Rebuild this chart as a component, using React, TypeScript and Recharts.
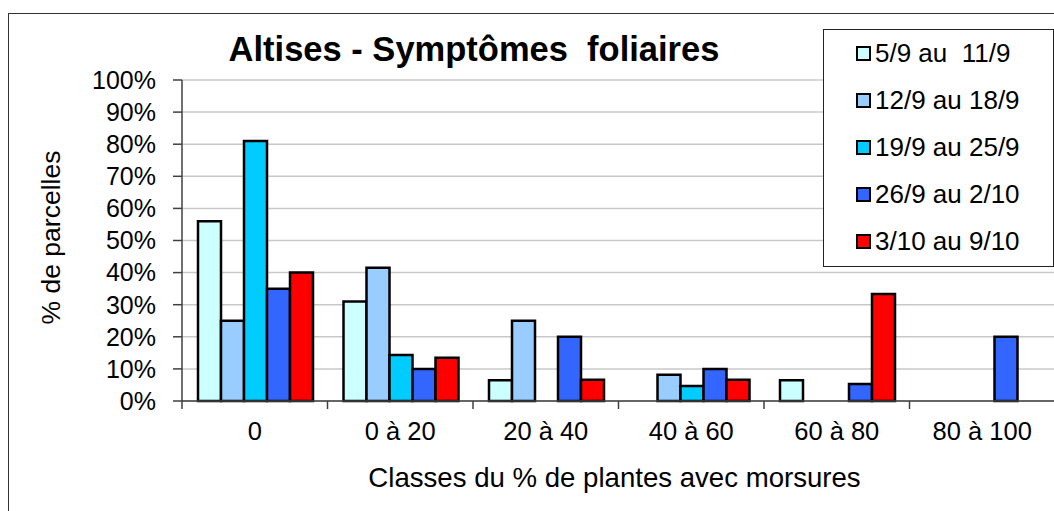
import React from "react";
import { BarChart, Bar, XAxis, YAxis, CartesianGrid, Legend } from "recharts";

// classes d'attaque (axe X)
const classes = ["0", "0 à 20", "20 à 40", "40 à 60", "60 à 80", "80 à 100"];

// périodes d'observation (séries)
const periodes = ["5/9 au  11/9", "12/9 au 18/9", "19/9 au 25/9", "26/9 au 2/10", "3/10 au 9/10"];

// % de parcelles par classe, une liste par période
const sem1 = [56, 31, 6.5, 0, 6.5, 0];
const sem2 = [25, 41.5, 25, 8.2, 0, 0];
const sem3 = [81, 14.3, 0, 4.7, 0, 0];
const sem4 = [35, 10, 20, 10, 5.3, 20];
const sem5 = [40, 13.5, 6.6, 6.6, 33.3, 0];

const couleurs = ["#CCFFFF", "#99CCFF", "#00CCFF", "#3366FF", "#FF0000"];
const yTicks = [0, 10, 20, 30, 40, 50, 60, 70, 80, 90, 100];

const series = [sem1, sem2, sem3, sem4, sem5];
const data = classes.map((c, i) => {
  const row: Record<string, string | number> = { classe: c };
  series.forEach((s, k) => {
    row["s" + k] = s[i];
  });
  return row;
});

const FONT = "'Liberation Sans', Arial, sans-serif";
const AXIS = "#404040";

function ClasseTick(props: any) {
  const { x, y, payload } = props;
  const half = payload && payload.offset ? payload.offset : 72.7;
  return (
    <g>
      <line x1={x - half} y1={y} x2={x - half} y2={y + 8} stroke={AXIS} strokeWidth={1.5} />
      <text x={x} y={y + 39} textAnchor="middle" fontSize={25.5} fill="#000" fontFamily={FONT}>
        {payload.value}
      </text>
    </g>
  );
}

function YTitre(props: any) {
  const vb = props.viewBox || { x: 30, y: 80, width: 152, height: 321 };
  const cx = vb.x + 30;
  const cy = vb.y + vb.height / 2 - 3;
  return (
    <text
      x={cx}
      y={cy}
      transform={`rotate(-90 ${cx} ${cy})`}
      textAnchor="middle"
      fontSize={26.5}
      fill="#000"
      fontFamily={FONT}
    >
      % de parcelles
    </text>
  );
}

function XTitre(props: any) {
  const vb = props.viewBox || { x: 182, y: 401, width: 873, height: 60 };
  return (
    <text
      x={vb.x + vb.width / 2 - 4}
      y={vb.y + 86}
      textAnchor="middle"
      fontSize={27.6}
      fill="#000"
      fontFamily={FONT}
    >
      Classes du % de plantes avec morsures
    </text>
  );
}

function LegendBox(props: any) {
  const items = props.payload || [];
  return (
    <div
      style={{
        width: 231,
        height: 238,
        boxSizing: "border-box",
        border: "1.5px solid #222",
        background: "#fff",
        paddingLeft: 32,
        fontFamily: FONT,
      }}
    >
      {items.map((e: any) => (
        <div key={e.value} style={{ height: 47, display: "flex", alignItems: "center" }}>
          <span
            style={{
              display: "inline-block",
              width: 11,
              height: 11,
              border: "2px solid #000",
              background: e.color,
              marginRight: 4,
            }}
          />
          <span style={{ fontSize: 26, color: "#000", whiteSpace: "pre" }}>{e.value}</span>
        </div>
      ))}
    </div>
  );
}

export default function App() {
  return (
    <div
      style={{
        position: "absolute",
        left: 0,
        top: 0,
        width: 1054,
        height: 511,
        overflow: "hidden",
        background: "#fff",
        fontFamily: FONT,
      }}
    >
      <div
        style={{
          position: "absolute",
          left: 8,
          top: 13,
          width: 1200,
          height: 700,
          border: "1.5px solid #333",
        }}
      />
      <div
        style={{
          position: "absolute",
          left: 174,
          top: 32,
          width: 600,
          textAlign: "center",
          fontSize: 34.5,
          lineHeight: "34px",
          fontWeight: "bold",
          whiteSpace: "pre",
          color: "#000",
        }}
      >
        Altises - Symptômes  foliaires
      </div>
      <div style={{ position: "absolute", left: 0, top: 0 }}>
        <BarChart
          width={1055}
          height={511}
          data={data}
          margin={{ top: 80, right: 0, bottom: 50, left: 30 }}
          barCategoryGap={16}
          barGap={0}
        >
          <CartesianGrid vertical={false} stroke="#C8C8C8" strokeWidth={1.5} />
          <XAxis
            dataKey="classe"
            height={60}
            axisLine={{ stroke: AXIS, strokeWidth: 1.5 }}
            tickLine={false}
            tickSize={0}
            tickMargin={0}
            tick={<ClasseTick />}
            interval={0}
            label={<XTitre />}
          />
          <YAxis
            width={152}
            domain={[0, 100]}
            ticks={yTicks}
            interval={0}
            tickFormatter={(v: number) => v + "%"}
            tick={{ fontSize: 25, fill: "#000", fontFamily: FONT }}
            tickSize={9}
            tickMargin={17}
            tickLine={{ stroke: AXIS, strokeWidth: 1.5 }}
            axisLine={{ stroke: AXIS, strokeWidth: 1.5 }}
            label={<YTitre />}
          />
          <Legend
            layout="vertical"
            align="center"
            verticalAlign="middle"
            itemSorter="dataKey"
            wrapperStyle={{ position: "absolute", left: 823, top: 29, width: 231, height: 238 }}
            content={<LegendBox />}
          />
          {periodes.map((p, k) => (
            <Bar
              key={p}
              dataKey={"s" + k}
              name={p}
              fill={couleurs[k]}
              stroke="#000"
              strokeWidth={2.5}
              isAnimationActive={false}
            />
          ))}
        </BarChart>
      </div>
    </div>
  );
}
